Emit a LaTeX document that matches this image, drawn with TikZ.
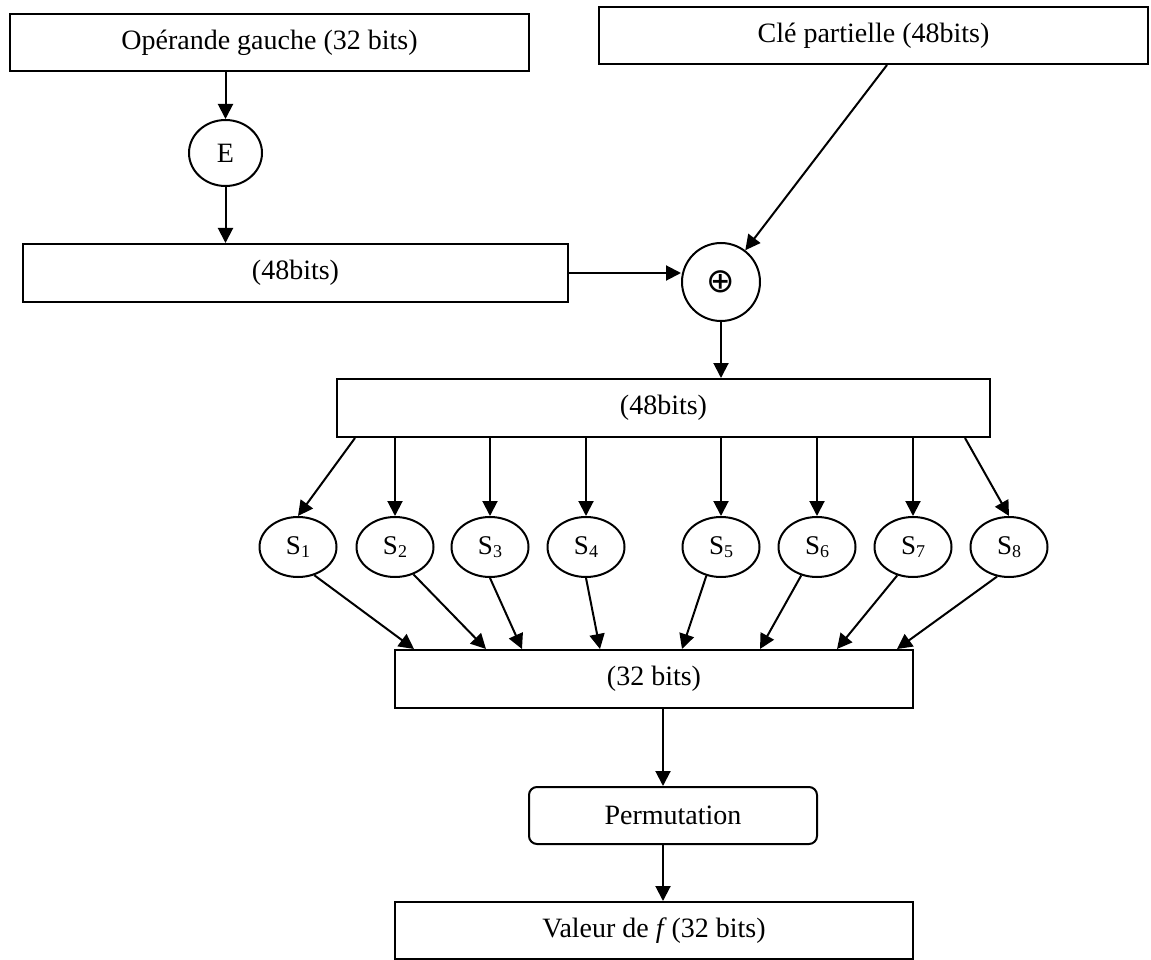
\documentclass[tikz,border=0pt]{standalone}
\usepackage{fontspec}
\setmainfont{Liberation Serif}
\newfontfamily\symfont{DejaVu Sans}
\usetikzlibrary{shapes.geometric,arrows.meta,calc}
\newcommand{\sbx}[1]{S\raisebox{-3pt}{\fontsize{18}{18}\selectfont #1}}
\begin{document}
\begin{tikzpicture}[x=1pt,y=-1pt,
  every node/.style={font=\fontsize{28}{32}\selectfont, line width=2pt, inner sep=0pt},
  box/.style={draw, rectangle},
  sbox/.style={draw, ellipse, minimum width=77pt, minimum height=60pt, font=\fontsize{27}{30}\selectfont},
  arr/.style={line width=2pt, -{Triangle[length=15pt,width=15pt]}},
]
\useasboundingbox (0,0) rectangle (1151,960);

\node[box, minimum width=519pt, minimum height=57pt] (op) at (269.5,42.5) {Opérande gauche (32 bits)};
\node[box, minimum width=549pt, minimum height=57pt] (cle) at (873.5,35.5) {Clé partielle (48bits)};
\node[draw, ellipse, minimum width=73pt, minimum height=66pt] (E) at (225.5,153) {E};
\node[box, minimum width=545pt, minimum height=58pt] (b48a) at (295.5,273) {(48bits)};
\node[draw, circle, minimum size=78pt] (xor) at (721,282) {\raisebox{-3pt}{\symfont\fontsize{34}{34}\selectfont ⊕}};
\node[box, minimum width=653pt, minimum height=58pt] (b48b) at (663.5,408) {(48bits)};

\node[sbox] (s1) at (298,547) {\sbx{1}};
\node[sbox] (s2) at (395,547) {\sbx{2}};
\node[sbox] (s3) at (490,547) {\sbx{3}};
\node[sbox] (s4) at (586,547) {\sbx{4}};
\node[sbox] (s5) at (721,547) {\sbx{5}};
\node[sbox] (s6) at (817,547) {\sbx{6}};
\node[sbox] (s7) at (913,547) {\sbx{7}};
\node[sbox] (s8) at (1009,547) {\sbx{8}};

\node[box, minimum width=518pt, minimum height=58pt] (b32) at (654,679) {(32 bits)};
\node[box, rounded corners=8pt, minimum width=288pt, minimum height=57pt] (perm) at (673,815.5) {Permutation};
\node[box, minimum width=518pt, minimum height=57pt] (val) at (654,930.5) {Valeur de \textit{f}\,(32 bits)};

% top part
\draw[arr] (E |- op.south) -- (E);
\draw[arr] (E) -- (E |- b48a.north);
\draw[arr] (b48a.east) -- (b48a.east -| xor.west);
\draw[arr] ([xshift=13.5pt]cle.south) -- (xor);
\draw[arr] (xor) -- (xor |- b48b.north);

% to S-boxes
\draw[arr] ([xshift=19pt]b48b.south west) -- (s1.north);
\foreach \s in {s2,s3,s4,s5,s6,s7} {\draw[arr] (\s |- b48b.south) -- (\s);}
\draw[arr] ([xshift=-26pt]b48b.south east) -- (s8.north);

% from S-boxes
\draw[arr] (s1.300) -- ([xshift=20pt]b32.north west);
\draw[arr] (s2.304) -- ([xshift=92pt]b32.north west);
\draw[arr] (s3.south) -- ([xshift=128pt]b32.north west);
\draw[arr] (s4.south) -- ([xshift=206pt]b32.north west);
\draw[arr] (s5.243) -- ([xshift=288pt]b32.north west);
\draw[arr] (s6.241) -- ([xshift=366pt]b32.north west);
\draw[arr] (s7.241) -- ([xshift=443pt]b32.north west);
\draw[arr] (s8.248) -- ([xshift=503pt]b32.north west);

% bottom
\draw[arr] ([xshift=9pt]b32.south) -- ([xshift=-10pt]perm.north);
\draw[arr] ([xshift=-10pt]perm.south) -- ([xshift=9pt]val.north);
\end{tikzpicture}
\end{document}
